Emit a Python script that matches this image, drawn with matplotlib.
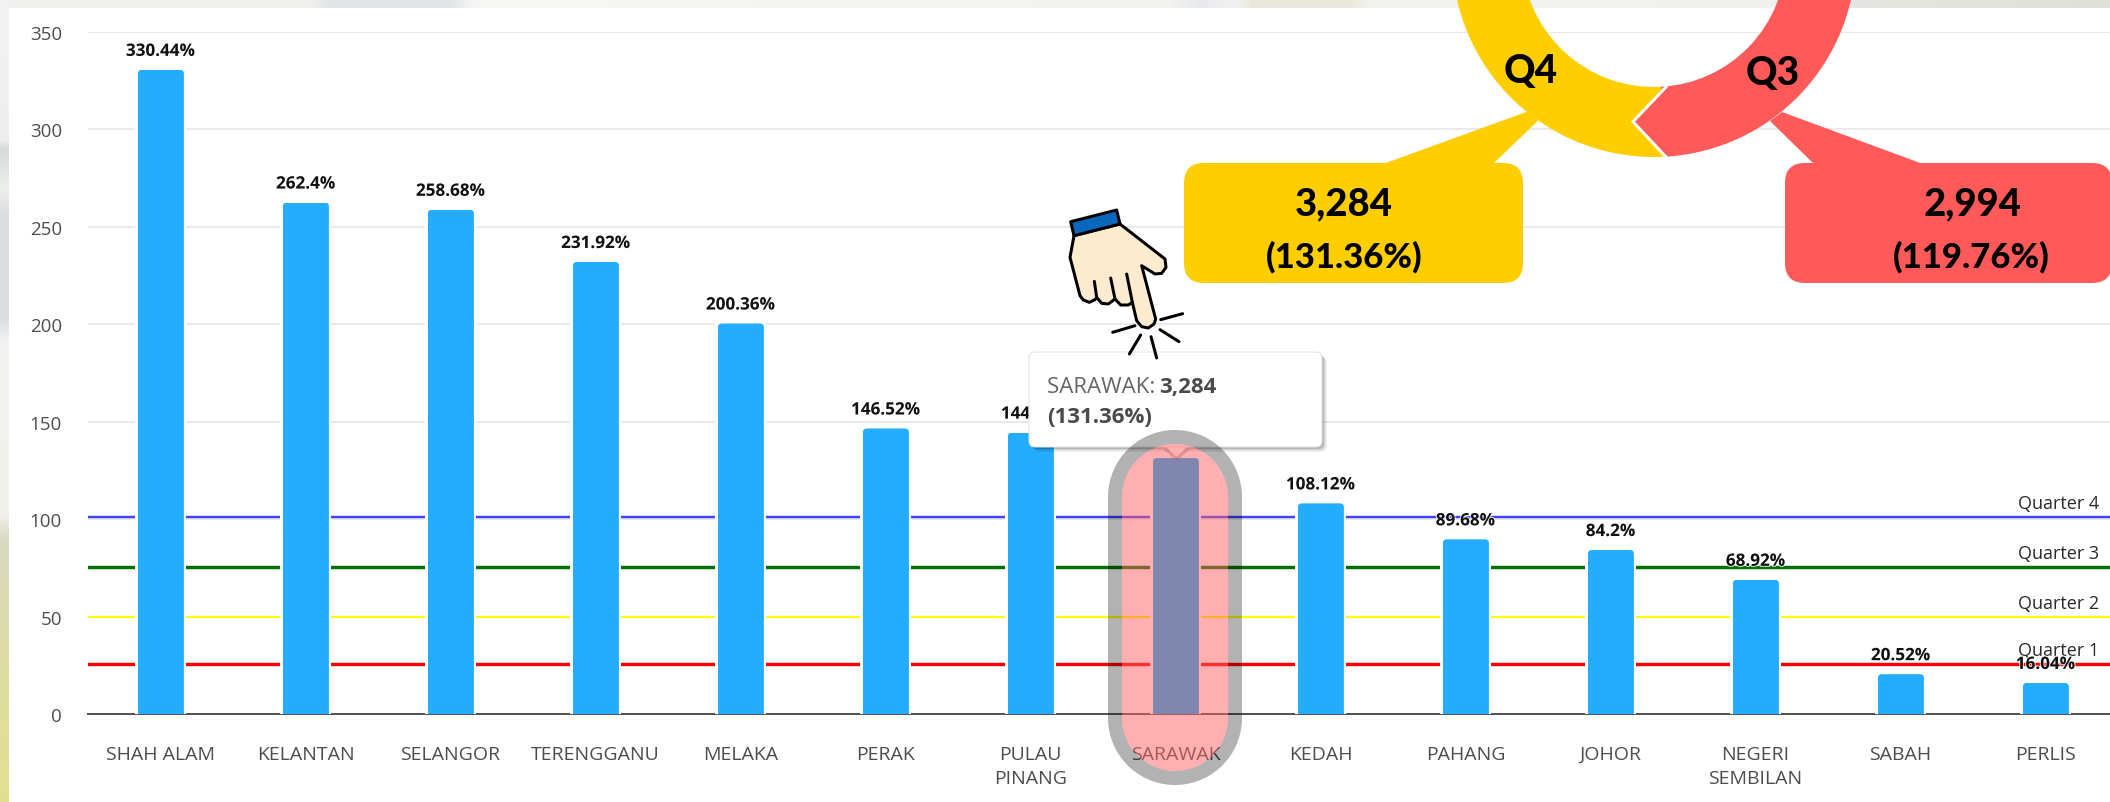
import numpy as np
import matplotlib
matplotlib.use("Agg")
import matplotlib.pyplot as plt
from matplotlib.colors import to_rgb
from matplotlib.patches import FancyBboxPatch, Polygon, Wedge
from matplotlib.path import Path
import matplotlib.patheffects as pe

W, H = 2110, 803
plt.rcParams['font.family'] = ['Open Sans', 'DejaVu Sans']

# ---- data ----
states = ["SHAH ALAM", "KELANTAN", "SELANGOR", "TERENGGANU", "MELAKA", "PERAK",
          "PULAU\nPINANG", "SARAWAK", "KEDAH", "PAHANG", "JOHOR",
          "NEGERI\nSEMBILAN", "SABAH", "PERLIS"]
percent = [330.44, 262.4, 258.68, 231.92, 200.36, 146.52, 144.4, 131.36,
           108.12, 89.68, 84.2, 68.92, 20.52, 16.04]
y_ticks = [0, 50, 100, 150, 200, 250, 300, 350]
quarter_names = ["Quarter 1", "Quarter 2", "Quarter 3", "Quarter 4"]
quarter_values = [25.7, 50, 75.3, 101.2]
quarter_colors = ["#ff0000", "#ffff00", "#007000", "#4040ff"]
quarter_widths = [3.4, 2.2, 3.4, 2.4]
highlight = "SARAWAK"
callouts = [("Q4", "3,284", "(131.36%)"), ("Q3", "2,994", "(119.76%)")]

BLUE = "#24adfd"
YELLOW = "#ffce00"
RED = "#ff5a5a"

fig = plt.figure(figsize=(W / 100, H / 100), dpi=100, facecolor="white")
PX = 72 / 100  # points per pixel

# ---- faint photo backdrop visible along the top and left edges ----
bg = fig.add_axes([0, 0, 1, 1], zorder=0)
bg.set_xlim(0, W); bg.set_ylim(H, 0); bg.axis("off")
top_stops = [(0, "#f1f1ef"), (310, "#f0f0ee"), (330, "#e2e4e6"), (450, "#e2e4e6"), (475, "#f7f7f6"),
             (1170, "#f2f2f0"), (1200, "#e8e9ec"), (1235, "#f2f2f2"), (1252, "#e9e9da"),
             (1350, "#e9e9da"), (1370, "#f3f3f1"), (1800, "#f0f0ee"), (1855, "#e4e4e4"),
             (1890, "#e4e5de"), (2110, "#dfe0d9")]
left_stops = [(0, "#f3f3f3"), (140, "#eeeeee"), (150, "#d8dadb"), (190, "#eef0ec"), (215, "#dcdde0"),
              (320, "#dcdde2"), (340, "#f1f1f1"), (515, "#f1f1ea"), (540, "#d9d9c2"), (680, "#dfdd9f"),
              (803, "#e2e08e")]
def ramp(stops, n):
    xs = np.array([s[0] for s in stops], float)
    cs = np.array([to_rgb(s[1]) for s in stops])
    return np.stack([np.interp(np.arange(n), xs, cs[:, i]) for i in range(3)], axis=-1)
bg.imshow(ramp(top_stops, W)[None, :, :], extent=(0, W, 9, 0), aspect="auto", interpolation="bilinear")
bg.imshow(ramp(left_stops, H)[:, None, :], extent=(0, 9, H, 0), aspect="auto", interpolation="bilinear")
bg.set_xlim(0, W); bg.set_ylim(H, 0)

# ---- main chart ----
AX_L, AX_R, AX_T, AX_B = 88, 2118, 32.7, 715.2
ax = fig.add_axes([AX_L / W, 1 - AX_B / H, (AX_R - AX_L) / W, (AX_B - AX_T) / H], zorder=1)
ax.patch.set_alpha(0)
x = np.arange(len(states))
ax.set_xlim(-0.5, len(states) - 0.5)
ax.set_ylim(0, 350)
for s in ("top", "left", "right"):
    ax.spines[s].set_visible(False)
ax.spines["bottom"].set_color("#555555")
ax.spines["bottom"].set_linewidth(2 * PX)
ax.set_axisbelow(True)
ax.grid(axis="y", color="#e9e9e9", lw=2 * PX)
ax.set_yticks(y_ticks)
ax.set_xticks(x, states, linespacing=1.42)
ax.tick_params(axis="x", length=0, pad=31 * PX, labelsize=14, labelcolor="#4d4d4d")
ax.tick_params(axis="y", length=0, pad=26 * PX, labelsize=13.5, labelcolor="#4d4d4d")

for v, c, lw in zip(quarter_values, quarter_colors, quarter_widths):
    ax.axhline(v, color=c, lw=lw * PX, zorder=2)
for name, v in zip(quarter_names, quarter_values):
    ax.annotate(name, xy=(1, v), xycoords=ax.get_yaxis_transform(), xytext=(-19 * PX, 14 * PX),
                textcoords="offset points", ha="right", va="center", fontsize=13,
                color="#2a2a2a", zorder=3)

unit = (AX_R - AX_L) / len(states)
bar_w = 46 / unit
halo_w = 51 / unit
ax.bar(x, np.array(percent) + 1.2, width=halo_w, color="white", zorder=4)
colors = ["#00b0ff" if s == highlight else BLUE for s in states]
bars = ax.bar(x + 0.4 / unit, percent, width=bar_w, color=colors, zorder=5)
rx, ry = 4 / unit, 4 / ((AX_B - AX_T) / 350)
for b in bars:
    x0, x1, top = b.get_x(), b.get_x() + b.get_width(), b.get_height()
    verts = [(x0, -5), (x0, top - ry), (x0, top), (x0 + rx, top), (x1 - rx, top), (x1, top),
             (x1, top - ry), (x1, -5), (x0, -5)]
    codes = [Path.MOVETO, Path.LINETO, Path.CURVE3, Path.CURVE3, Path.LINETO, Path.CURVE3,
             Path.CURVE3, Path.LINETO, Path.CLOSEPOLY]
    b.set_clip_path(Path(verts, codes), ax.transData)

for xi, v in zip(x, percent):
    ax.annotate(f"{v:g}%", xy=(xi, v), xytext=(0, 19 * PX), textcoords="offset points",
                ha="center", va="center", fontsize=12.3, fontweight="bold", color="#111111", zorder=6,
                path_effects=[pe.withStroke(linewidth=1.5, foreground="white", alpha=0.8)])

# ---- overlay in pixel coordinates ----
ov = fig.add_axes([0, 0, 1, 1], zorder=2)
ov.set_xlim(0, W); ov.set_ylim(H, 0); ov.axis("off")

def rbox(x0, y0, x1, y1, r, **kw):
    p = FancyBboxPatch((x0, y0), x1 - x0, y1 - y0, boxstyle=f"round,pad=0,rounding_size={r}", **kw)
    ov.add_patch(p)
    return p

def stadium(x0, y0, x1, y1, **kw):
    r = (x1 - x0) / 2
    cx = (x0 + x1) / 2
    t = np.linspace(np.pi, 2 * np.pi, 60)
    top = np.c_[cx + r * np.cos(t), y0 + r + r * np.sin(t)]
    bot = np.c_[cx + r * np.cos(t - np.pi), y1 - r + r * np.sin(t - np.pi)]
    p = Polygon(np.vstack([top, bot]), closed=True, **kw)
    ov.add_patch(p)
    return p

# donut and callouts
CX, CY, RO, RI = 1654, -44, 202, 132
SPLIT = 86.9
ov.add_patch(Polygon([(1527, 112.7), (1538, 121.7), (1493, 165), (1383, 165)], fc=YELLOW, ec="none"))
ov.add_patch(Polygon([(1782, 113), (1770, 122), (1814, 165), (1923, 165)], fc=RED, ec="none"))
rbox(1184, 164, 1523, 284, 20, fc=YELLOW, ec="none")
rbox(1785, 164, 2112, 284, 20, fc=RED, ec="none")
ov.add_patch(Wedge((CX, CY), RO, SPLIT, 180, width=RO - RI, fc=YELLOW, ec="none"))
ov.add_patch(Wedge((CX, CY), RO, 0, SPLIT, width=RO - RI, fc=RED, ec="none"))
ov.add_patch(Polygon([(1666, 88), (1633, 122.7), (1666, 158), (1690, 150), (1690, 90)], fc=RED, ec="none"))
ov.plot([1667, 1633, 1667], [87, 122.7, 159], color="white", lw=3 * PX, solid_joinstyle="miter", solid_capstyle="butt")
big = dict(family=["Lato", "DejaVu Sans"], fontweight=900, color="black", ha="center", va="center")
ov.text(1531, 71, callouts[0][0], fontsize=28, **big)
ov.text(1773, 73, callouts[1][0], fontsize=28, **big)
ov.text(1344, 204, callouts[0][1], fontsize=27.5, **big)
ov.text(1344, 257, callouts[0][2], fontsize=25, **big)
ov.text(1973, 204, callouts[1][1], fontsize=27.5, **big)
ov.text(1971, 257, callouts[1][2], fontsize=25, **big)

# tooltip
for off, a in ((5, 0.06), (3.5, 0.1), (2, 0.16)):
    rbox(1029 + off, 353 + off, 1322 + off, 448 + off, 6, fc="black", alpha=a, ec="none")
ov.add_patch(Polygon([(1163, 450), (1190, 450), (1176.5, 462)], fc="#555555", alpha=0.35, ec="none"))
ov.add_patch(Polygon([(1165, 447), (1188, 447), (1176.5, 458)], fc="white", ec="none"))
rbox(1029, 353, 1322, 448, 6, fc="white", ec="#e3e3e3", lw=0.7)
t1 = ov.text(1047, 388, "SARAWAK: ", fontsize=16, color="#666666", va="center", ha="left")
fig.canvas.draw()
bb = t1.get_window_extent()
ov.text(bb.x1 - 2, 388, "3,284", fontsize=16, fontweight="bold", color="#4a4a4a", va="center", ha="left")
ov.text(1047, 418, "(131.36%)", fontsize=16, fontweight="bold", color="#4a4a4a", va="center", ha="left")

# highlight pill
stadium(1122, 445, 1228, 772, fc="#ff6060", alpha=0.5, ec="none")
stadium(1115, 438, 1235, 779, fc="none", ec=(0, 0, 0, 0.3), lw=14 * PX)

# pointing hand
def z(pts):
    return [(1000 + a / 3, 180 + b / 3) for a, b in pts]
hand = z([(222, 170), (210, 235), (240, 350), (250, 363), (268, 370), (285, 362), (290, 355),
          (305, 373), (325, 375), (345, 360), (362, 378), (385, 378), (397, 370),
          (410, 425), (425, 443), (445, 447), (462, 435), (467, 420), (425, 260),
          (465, 285), (485, 283), (498, 265), (495, 240), (360, 135)])
ov.add_patch(Polygon(hand, closed=True, fc="#fdebd0", ec="black", lw=3 * PX, joinstyle="round"))
ov.add_patch(Polygon(z([(212, 128), (350, 93), (360, 135), (222, 170)]), closed=True, fc="#0b66bd",
                     ec="black", lw=3 * PX, joinstyle="round"))
strokes = [[(283, 307), (290, 355)], [(332, 297), (345, 360)], [(380, 285), (397, 370)],
           [(482, 422), (548, 404)], [(480, 452), (537, 488)], [(453, 473), (470, 537)],
           [(422, 468), (388, 525)], [(405, 440), (338, 460)]]
for s in strokes:
    (xa, ya), (xb, yb) = z(s)
    ov.plot([xa, xb], [ya, yb], color="black", lw=3 * PX, solid_capstyle="round")

fig.savefig("out.png", dpi=100)
